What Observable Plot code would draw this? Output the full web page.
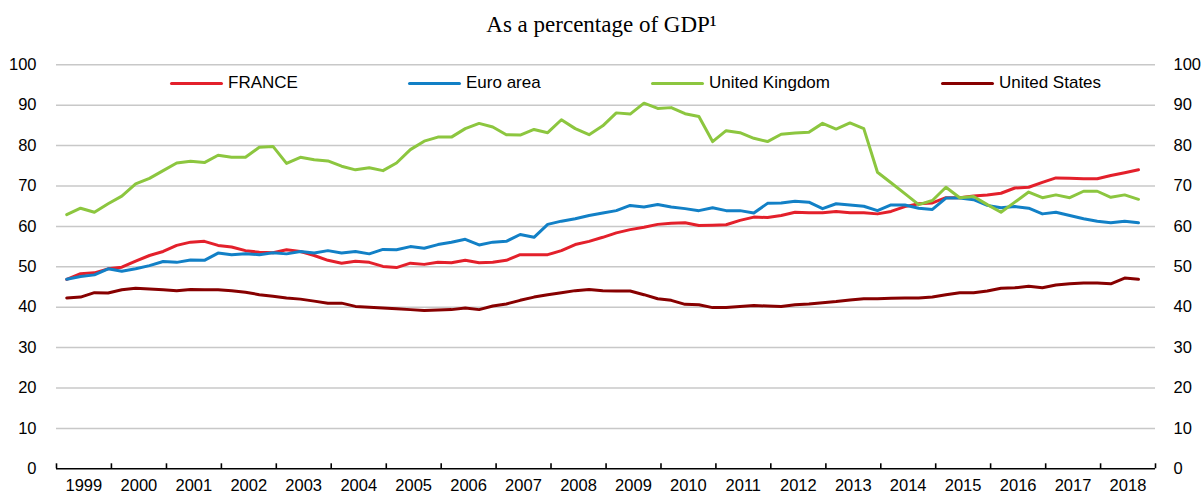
<!DOCTYPE html>
<html>
<head>
<meta charset="utf-8">
<script src="https://cdn.jsdelivr.net/npm/d3@7"></script>
<script src="https://cdn.jsdelivr.net/npm/@observablehq/plot@0.6"></script>
<style>
  body { margin: 0; background: #fff; }
  #wrap { position: relative; width: 1203px; height: 493px; overflow: hidden; background: #fff; }
  #title { height: 40px; padding-top: 5px; line-height: 40px; text-align: center;
           font-family: "Liberation Serif", "Times New Roman", serif; font-size: 23px; color: #000; }
  #legend { position: absolute; top: 72px; left: 0; width: 1203px; height: 22px;
            font-family: "Liberation Sans", Arial, sans-serif; font-size: 17px; color: #000; }
  .item { position: absolute; top: 0; height: 22px; display: flex; align-items: center; white-space: nowrap; }
  .swatch { width: 53px; height: 3px; margin-right: 5px; border-radius: 1.5px; }
  svg { display: block; }
</style>
</head>
<body>
<div id="wrap">
  <div id="title">As a percentage of GDP¹</div>
  <div id="chart"></div>
  <div id="legend"></div>
</div>
<script>
// ---- Data (quarterly, 1999Q1 – 2018Q3) ----
const years = [1999,2000,2001,2002,2003,2004,2005,2006,2007,2008,2009,2010,2011,2012,2013,2014,2015,2016,2017,2018];
const quarters = years.flatMap(y => ["Q1","Q2","Q3","Q4"].map(q => y + q)).slice(0, 79);

const seriesNames = ["FRANCE", "Euro area", "United Kingdom", "United States"];
const seriesColors = ["#e3202b", "#1280c6", "#8cc63f", "#870000"];
const legendLeft = [170, 408, 651, 941];

const france = [
  46.9,48.3,48.5,49.5, 49.9,51.4,52.8,53.8, 55.3,56.1,56.3,55.3, 54.9,54.0,53.6,53.5,
  54.2,53.8,52.8,51.6, 50.9,51.4,51.1,50.1, 49.8,50.9,50.6,51.1, 51.0,51.6,51.0,51.1,
  51.6,53.0,53.0,53.0, 54.0,55.5,56.3,57.3, 58.4,59.2,59.8,60.5, 60.8,60.9,60.2,60.3,
  60.4,61.5,62.3,62.2, 62.7,63.5,63.4,63.4, 63.7,63.4,63.4,63.1, 63.7,64.9,65.6,65.8,
  67.1,67.1,67.5,67.8, 68.2,69.5,69.7,70.9, 72.0,71.9,71.8,71.8, 72.6,73.3,74.0
];
const euroArea = [
  46.9,47.6,48.0,49.5, 48.9,49.5,50.3,51.3, 51.1,51.7,51.6,53.4, 53.0,53.2,53.0,53.5,
  53.2,53.8,53.4,54.0, 53.4,53.8,53.2,54.3, 54.2,55.0,54.6,55.5, 56.1,56.8,55.4,56.1,
  56.3,58.0,57.3,60.5, 61.3,61.9,62.7,63.3, 63.9,65.2,64.8,65.4, 64.8,64.4,63.9,64.6,
  63.9,63.9,63.3,65.7, 65.8,66.2,66.0,64.4, 65.6,65.3,65.0,63.9, 65.3,65.3,64.5,64.2,
  67.0,67.0,66.6,65.2, 64.6,64.9,64.5,63.1, 63.5,62.7,61.9,61.3, 60.9,61.3,60.9
];
const unitedKingdom = [
  62.9,64.5,63.5,65.6, 67.5,70.5,71.9,73.8, 75.7,76.1,75.8,77.6, 77.1,77.1,79.6,79.8,
  75.6,77.1,76.5,76.2, 74.9,74.0,74.5,73.8, 75.7,79.0,81.1,82.1, 82.1,84.2,85.5,84.6,
  82.7,82.6,84.0,83.2, 86.4,84.2,82.7,84.9, 88.1,87.8,90.5,89.2, 89.4,87.9,87.2,81.0,
  83.7,83.2,81.8,81.0, 82.8,83.1,83.3,85.5, 84.1,85.6,84.2,73.4, 70.8,68.1,65.4,66.4,
  69.7,67.1,67.4,65.4, 63.5,66.0,68.5,67.1, 67.8,67.1,68.7,68.7, 67.2,67.8,66.7
];
const unitedStates = [
  42.3,42.5,43.6,43.5, 44.3,44.7,44.5,44.3, 44.1,44.4,44.3,44.3, 44.1,43.7,43.1,42.7,
  42.3,42.0,41.5,41.0, 41.0,40.2,40.0,39.8, 39.6,39.4,39.2,39.3, 39.4,39.8,39.4,40.3,
  40.8,41.7,42.5,43.1, 43.6,44.1,44.4,44.1, 44.0,44.0,43.1,42.1, 41.7,40.7,40.6,39.9,
  39.9,40.2,40.4,40.3, 40.2,40.6,40.8,41.1, 41.4,41.8,42.1,42.1, 42.2,42.3,42.3,42.5,
  43.1,43.6,43.6,44.0, 44.7,44.8,45.2,44.8, 45.5,45.8,46.0,46.0, 45.8,47.2,46.9
];
const yTicks = [0,10,20,30,40,50,60,70,80,90,100];
const xYearLabels = [1999,2000,2001,2002,2003,2004,2005,2006,2007,2008,2009,2010,2011,2012,2013,2014,2015,2016,2017,2018];

// ---- Build table ----
const seriesValues = [france, euroArea, unitedKingdom, unitedStates];
const quarterDate = q => new Date(Date.UTC(+q.slice(0, 4), 3 * (+q.slice(5) - 1) + 2, 10));
const rows = seriesNames.flatMap((name, s) =>
  seriesValues[s].map((v, i) => ({series: name, date: quarterDate(quarters[i]), value: v})));

const yearStarts = [...xYearLabels, 2019].map(y => new Date(Date.UTC(y, 0, 1)));
const yearMids = xYearLabels.map(y => new Date(Date.UTC(y, 6, 2)));

const chart = Plot.plot({
  width: 1203,
  height: 448,
  marginTop: 19.3,
  marginBottom: 24.7,
  marginLeft: 56,
  marginRight: 48,
  style: {fontFamily: "Liberation Sans, Arial, sans-serif", fontSize: "16.5px", color: "#000", background: "#fff", overflow: "visible"},
  x: {type: "utc", domain: [yearStarts[0], yearStarts[yearStarts.length - 1]]},
  y: {domain: [0, 100]},
  color: {domain: seriesNames, range: seriesColors},
  marks: [
    Plot.gridY(yTicks.filter(d => d > 0), {stroke: "#c8c8c8", strokeOpacity: 1, strokeWidth: 1.5}),
    Plot.axisY({anchor: "left", ticks: yTicks, tickSize: 0, tickPadding: 20, label: null}),
    Plot.axisY({anchor: "right", ticks: yTicks, tickSize: 0, tickPadding: 18, label: null}),
    Plot.line(rows, {x: "date", y: "value", z: "series", stroke: "series", strokeWidth: 3,
                     strokeLinejoin: "round", strokeLinecap: "round"}),
    Plot.ruleY([0], {stroke: "#000", strokeWidth: 1.6}),
    Plot.axisX({ticks: yearStarts, tickSize: -5, tickFormat: () => "", stroke: "#000", strokeWidth: 1.6, label: null}),
    Plot.axisX({ticks: yearMids, tickSize: 0, tickPadding: 10, tickFormat: d => String(d.getUTCFullYear()), label: null})
  ]
});
document.getElementById("chart").appendChild(chart);

// ---- Legend ----
const legend = document.getElementById("legend");
seriesNames.forEach((name, i) => {
  const item = document.createElement("div");
  item.className = "item";
  item.style.left = legendLeft[i] + "px";
  const sw = document.createElement("div");
  sw.className = "swatch";
  sw.style.background = seriesColors[i];
  const tx = document.createElement("span");
  tx.textContent = name;
  item.appendChild(sw);
  item.appendChild(tx);
  legend.appendChild(item);
});
</script>
</body>
</html>
